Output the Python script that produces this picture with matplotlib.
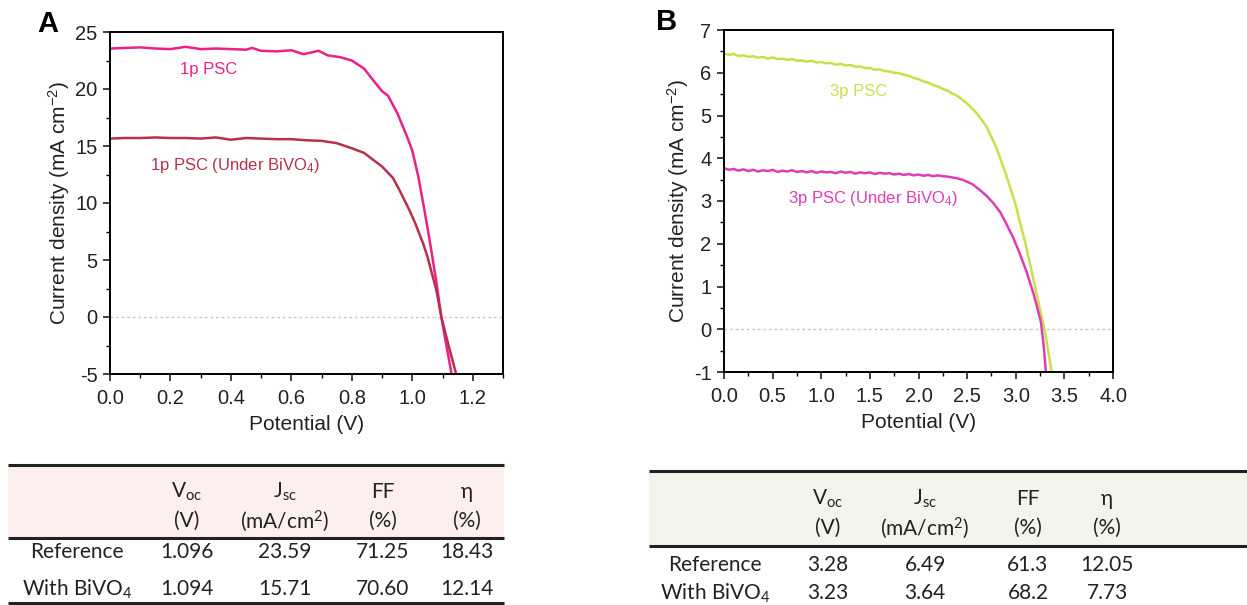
import matplotlib
matplotlib.use("Agg")
import matplotlib.pyplot as plt
from matplotlib.ticker import MultipleLocator, AutoMinorLocator, FormatStrFormatter

plt.rcParams['font.family'] = ['Liberation Sans', 'DejaVu Sans']
plt.rcParams['axes.unicode_minus'] = False

# ---------------- data ----------------
# Panel A : 1p PSC
a_ref_v = [0, 0.05, 0.1, 0.15, 0.2, 0.25, 0.3, 0.35, 0.4, 0.45, 0.47, 0.5, 0.55, 0.6, 0.64, 0.69,
           0.72, 0.76, 0.8, 0.84, 0.87, 0.9, 0.92, 0.95, 0.98, 1.0, 1.02, 1.04, 1.06, 1.08, 1.096, 1.11, 1.13]
a_ref_j = [23.55, 23.6, 23.65, 23.55, 23.5, 23.7, 23.5, 23.55, 23.5, 23.45, 23.6, 23.35, 23.3, 23.4, 23.05, 23.35,
           22.95, 22.8, 22.5, 21.8, 20.8, 19.8, 19.4, 17.9, 16.0, 14.6, 12.3, 9.4, 6.3, 3.0, 0.0, -2.1, -5.0]
a_biv_v = [0, 0.05, 0.1, 0.15, 0.2, 0.25, 0.3, 0.35, 0.4, 0.45, 0.5, 0.55, 0.6, 0.65, 0.7, 0.75, 0.8,
           0.84, 0.87, 0.9, 0.936, 0.96, 0.99, 1.01, 1.035, 1.05, 1.068, 1.08, 1.096, 1.12, 1.145]
a_biv_j = [15.65, 15.7, 15.7, 15.75, 15.7, 15.7, 15.65, 15.75, 15.55, 15.7, 15.65, 15.6, 15.6, 15.5, 15.45,
           15.25, 14.8, 14.4, 13.8, 13.2, 12.2, 11.0, 9.4, 8.2, 6.5, 5.3, 3.5, 2.3, 0.0, -2.5, -5.0]

# Panel B : 3p PSC
b_ref_v = [0.0, 0.05, 0.1, 0.15, 0.2, 0.25, 0.3, 0.35, 0.4, 0.45, 0.5, 0.55, 0.6, 0.65, 0.7, 0.75, 0.8, 0.85,
           0.9, 0.95, 1.0, 1.05, 1.1, 1.15, 1.2, 1.25, 1.3, 1.35, 1.4, 1.45, 1.5, 1.55, 1.6, 1.65, 1.7, 1.75,
           1.8, 1.85, 1.9, 1.95, 2.0, 2.05, 2.1, 2.15, 2.2, 2.25, 2.3, 2.35, 2.4, 2.45, 2.5, 2.6, 2.7, 2.8,
           2.9, 3.0, 3.1, 3.2, 3.3, 3.37]
b_ref_j = [6.45, 6.42, 6.44, 6.39, 6.41, 6.37, 6.39, 6.35, 6.37, 6.33, 6.36, 6.32, 6.33, 6.30, 6.32, 6.28,
           6.29, 6.26, 6.28, 6.24, 6.25, 6.22, 6.23, 6.19, 6.21, 6.17, 6.18, 6.14, 6.15, 6.11, 6.11, 6.07,
           6.08, 6.04, 6.03, 6.00, 5.99, 5.95, 5.93, 5.88, 5.85, 5.80, 5.77, 5.71, 5.68, 5.62, 5.58, 5.51,
           5.46, 5.37, 5.28, 5.05, 4.74, 4.25, 3.62, 2.90, 2.00, 0.98, -0.05, -1.0]
b_biv_v = [0.0, 0.05, 0.1, 0.15, 0.2, 0.25, 0.3, 0.35, 0.4, 0.45, 0.5, 0.55, 0.6, 0.65, 0.7, 0.75, 0.8, 0.85,
           0.9, 0.95, 1.0, 1.05, 1.1, 1.15, 1.2, 1.25, 1.3, 1.35, 1.4, 1.45, 1.5, 1.55, 1.6, 1.65, 1.7, 1.75,
           1.8, 1.85, 1.9, 1.95, 2.0, 2.05, 2.1, 2.15, 2.2, 2.25, 2.3, 2.35, 2.4, 2.46, 2.55, 2.63, 2.7,
           2.77, 2.84, 2.9, 2.97, 3.04, 3.11, 3.18, 3.22, 3.26, 3.29, 3.31]
b_biv_j = [3.77, 3.73, 3.75, 3.71, 3.74, 3.70, 3.73, 3.69, 3.72, 3.70, 3.73, 3.68, 3.71, 3.69, 3.72, 3.68,
           3.70, 3.67, 3.70, 3.66, 3.69, 3.67, 3.68, 3.65, 3.69, 3.66, 3.68, 3.64, 3.67, 3.65, 3.67, 3.63,
           3.66, 3.64, 3.65, 3.62, 3.64, 3.61, 3.63, 3.60, 3.62, 3.59, 3.61, 3.58, 3.60, 3.58, 3.57, 3.55,
           3.53, 3.49, 3.40, 3.26, 3.12, 2.95, 2.74, 2.48, 2.16, 1.78, 1.35, 0.85, 0.52, 0.15, -0.45, -1.0]

a_labels = ["1p PSC", "1p PSC (Under BiVO$\\mathregular{_4}$)"]
b_labels = ["3p PSC", "3p PSC (Under BiVO$\\mathregular{_4}$)"]

col_heads_top = ["V$\\mathregular{_{oc}}$", "J$\\mathregular{_{sc}}$", "FF", "η"]
col_heads_bot = ["(V)", "(mA/cm$\\mathregular{^2}$)", "(%)", "(%)"]
row_names = ["Reference", "With BiVO$\\mathregular{_4}$"]
table_a = [["1.096", "23.59", "71.25", "18.43"],
           ["1.094", "15.71", "70.60", "12.14"]]
table_b = [["3.28", "6.49", "61.3", "12.05"],
           ["3.23", "3.64", "68.2", "7.73"]]

c_pink = "#ee1f86"
c_brown = "#b8304a"
c_lime = "#c8e04a"
c_mag = "#e03cb4"
c_text = "#222222"

W, H = 1247, 605
fig = plt.figure(figsize=(W / 100, H / 100), dpi=100)


def px_axes(l, t, r, b):
    return fig.add_axes([l / W, 1 - b / H, (r - l) / W, (b - t) / H])


def style_axes(ax, xmaj, ymaj):
    for s in ax.spines.values():
        s.set_linewidth(1.4)
    ax.xaxis.set_major_locator(MultipleLocator(xmaj))
    ax.yaxis.set_major_locator(MultipleLocator(ymaj))
    ax.xaxis.set_minor_locator(AutoMinorLocator(2))
    ax.yaxis.set_minor_locator(AutoMinorLocator(2))
    ax.xaxis.set_major_formatter(FormatStrFormatter('%.1f'))
    ax.tick_params(which='major', direction='out', length=5, width=1.2, labelsize=14.5,
                   colors=c_text, pad=6)
    ax.tick_params(which='minor', direction='out', length=3, width=1.0)
    ax.tick_params(axis='y', which='major', pad=4)
    ax.axhline(0, color='#c8c8c8', lw=1.0, ls=(0, (2, 2)), zorder=0)
    ax.set_xlabel("Potential (V)", fontsize=15, color=c_text, labelpad=5)
    ax.set_ylabel("Current density (mA cm$\\mathregular{^{-2}}$)", fontsize=15, color=c_text, labelpad=2)


# Panel A
axA = px_axes(110, 32, 503, 374)
axA.plot(a_ref_v, a_ref_j, color=c_pink, lw=1.8)
axA.plot(a_biv_v, a_biv_j, color=c_brown, lw=1.8)
axA.set_xlim(0, 1.3)
axA.set_ylim(-5, 25)
style_axes(axA, 0.2, 5)
axA.text(0.232, 21.7, a_labels[0], color=c_pink, fontsize=12, va='center')
axA.text(0.132, 13.3, a_labels[1], color=c_brown, fontsize=12, va='center')

# Panel B
axB = px_axes(724, 30, 1113, 372)
axB.plot(b_ref_v, b_ref_j, color=c_lime, lw=1.8)
axB.plot(b_biv_v, b_biv_j, color=c_mag, lw=1.8)
axB.set_xlim(0, 4.0)
axB.set_ylim(-1, 7)
style_axes(axB, 0.5, 1)
axB.text(1.09, 5.55, b_labels[0], color=c_lime, fontsize=12, va='center')
axB.text(0.66, 3.07, b_labels[1], color=c_mag, fontsize=12, va='center')

# Panel letters
fig.text(37 / W, 1 - 24 / H, "A", fontsize=21, fontweight='bold', va='center', ha='left')
fig.text(656 / W, 1 - 22 / H, "B", fontsize=21, fontweight='bold', va='center', ha='left')

# ---------------- tables ----------------
ov = fig.add_axes([0, 0, 1, 1], zorder=-1)
ov.set_xlim(0, W)
ov.set_ylim(H, 0)
ov.axis('off')

tfont = ['Lato', 'DejaVu Sans']


def draw_table(x0, x1, ytop, yhead, ybot, hdr_color, label_x, col_x, head_y, row_y, vals):
    ov.fill_between([x0, x1], ytop, yhead, color=hdr_color, lw=0)
    ov.plot([x0, x1], [ytop, ytop], color=c_text, lw=2.2, solid_capstyle='butt')
    ov.plot([x0, x1], [yhead, yhead], color=c_text, lw=2.2, solid_capstyle='butt')
    if ybot is not None:
        ov.plot([x0, x1], [ybot, ybot], color=c_text, lw=2.2, solid_capstyle='butt')
    for i, cx in enumerate(col_x):
        ov.text(cx, head_y[0], col_heads_top[i], ha='center', va='center', fontsize=15,
                family=tfont, color=c_text)
        ov.text(cx, head_y[1], col_heads_bot[i], ha='center', va='center', fontsize=15,
                family=tfont, color=c_text)
    for r, ry in enumerate(row_y):
        ov.text(label_x, ry, row_names[r], ha='center', va='center', fontsize=15,
                family=tfont, color=c_text)
        for i, cx in enumerate(col_x):
            ov.text(cx, ry, vals[r][i], ha='center', va='center', fontsize=15,
                    family=tfont, color=c_text)


draw_table(8, 504, 465, 538, 603, '#fcefee', 77, [187, 285, 383, 467], [492, 521], [552, 589], table_a)
draw_table(649, W, 471, 546, None, '#f1f5ec', 715, [828, 925, 1028, 1107], [499, 528], [565, 593], table_b)

fig.savefig("out.png", dpi=100)
